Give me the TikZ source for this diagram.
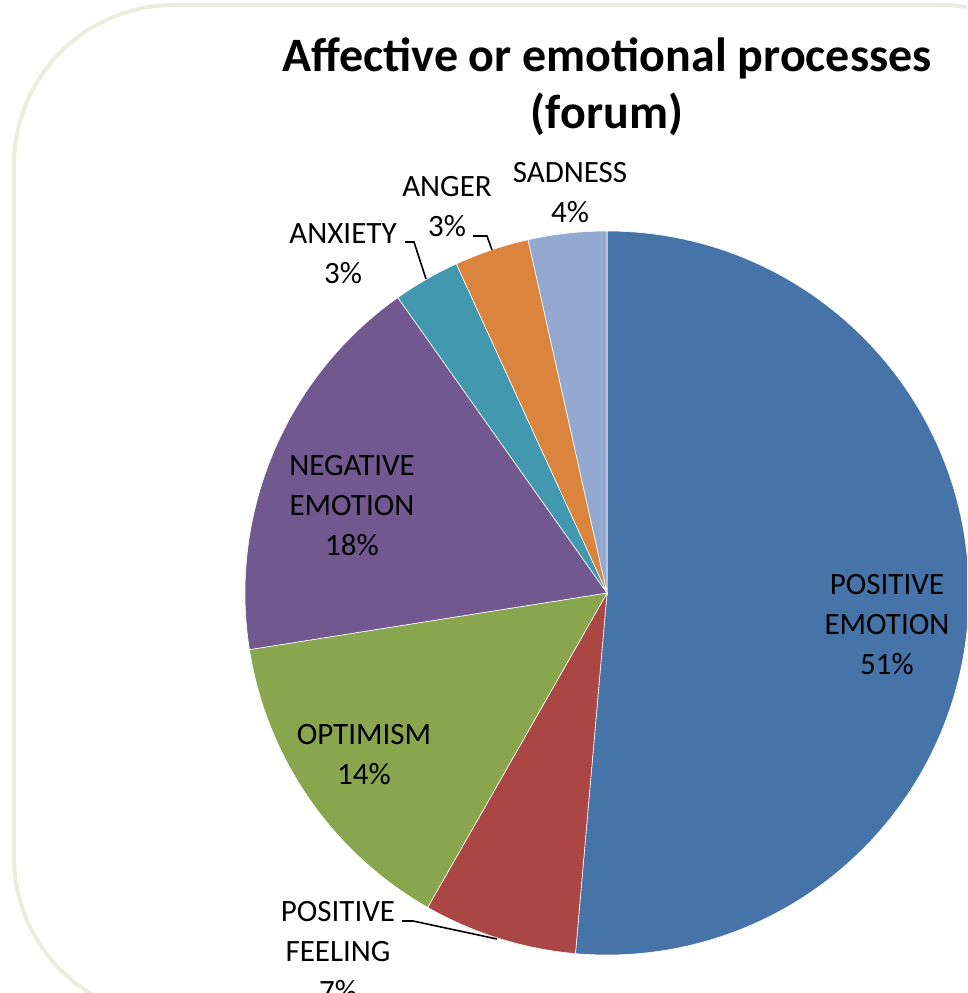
\documentclass[tikz,border=0pt]{standalone}
\usepackage{fontspec}
\setmainfont{Carlito}
\definecolor{cPosEmo}{HTML}{4673A8}
\definecolor{cPosFeel}{HTML}{AA4744}
\definecolor{cOpt}{HTML}{89A54E}
\definecolor{cNeg}{HTML}{71588F}
\definecolor{cAnx}{HTML}{4198AF}
\definecolor{cAng}{HTML}{DB843D}
\definecolor{cSad}{HTML}{93A9CF}
\definecolor{frameC}{HTML}{EEECE1}
\tikzset{
  slice/.style={draw=white, line width=0.6pt},
  lbl/.style={align=center, font=\fontsize{31}{40}\selectfont, inner sep=0pt},
  leader/.style={draw=black, line width=1.6pt},
  ttl/.style={align=center, font=\fontsize{48}{57}\selectfont\bfseries, inner sep=0pt}
}
\begin{document}
\begin{tikzpicture}[x=1pt,y=1pt]
\useasboundingbox (0,0) rectangle (967,993);
\clip (0,0) rectangle (967,993);
\fill[white] (0,0) rectangle (967,993);
% frame
\draw[frameC, line width=4pt, rounded corners=160pt] (14,-24) rectangle (1100,988);
% pie
\coordinate (c) at (607,400);
\def\R{362}
\fill[cPosEmo, slice] (c) -- ++(90:\R) arc[start angle=90, end angle=-95, radius=\R] -- cycle;
\fill[cPosFeel, slice] (c) -- ++(-95:\R) arc[start angle=-95, end angle=-119.7, radius=\R] -- cycle;
\fill[cOpt, slice] (c) -- ++(-119.7:\R) arc[start angle=-119.7, end angle=-171, radius=\R] -- cycle;
\fill[cNeg, slice] (c) -- ++(-171:\R) arc[start angle=-171, end angle=-234.7, radius=\R] -- cycle;
\fill[cAnx, slice] (c) -- ++(-234.7:\R) arc[start angle=-234.7, end angle=-245.4, radius=\R] -- cycle;
\fill[cAng, slice] (c) -- ++(-245.4:\R) arc[start angle=-245.4, end angle=-257.4, radius=\R] -- cycle;
\fill[cSad, slice] (c) -- ++(-257.4:\R) arc[start angle=-257.4, end angle=-270, radius=\R] -- cycle;
% title
\node[ttl] (title) at (607,906) {Affective or emotional processes\\(forum)};
% labels
\node[lbl] (posemo) at (887,368) {POSITIVE\\EMOTION\\51\%};
\node[lbl] (neg) at (352,487) {NEGATIVE\\EMOTION\\18\%};
\node[lbl] (opt) at (364,238) {OPTIMISM\\14\%};
\node[lbl] (anx) at (343,739) {ANXIETY\\3\%};
\node[lbl] (ang) at (447,786) {ANGER\\3\%};
\node[lbl] (sad) at (570,800) {SADNESS\\4\%};
\node[lbl] (posfeel) at (338,41) {POSITIVE\\FEELING\\7\%};
% leader lines
\coordinate (anxA) at (405,751);
\coordinate (anxB) at (426,714);
\coordinate (angA) at (473,757);
\coordinate (angB) at (492,743);
\coordinate (pfA) at (402,72);
\coordinate (pfB) at (497,54);
\draw[leader] (anxA) -- ++(9,0) -- (anxB);
\draw[leader] (angA) -- ++(14,0) -- (angB);
\draw[leader] (pfA) -- ++(11,0) -- (pfB);
\end{tikzpicture}
\end{document}
